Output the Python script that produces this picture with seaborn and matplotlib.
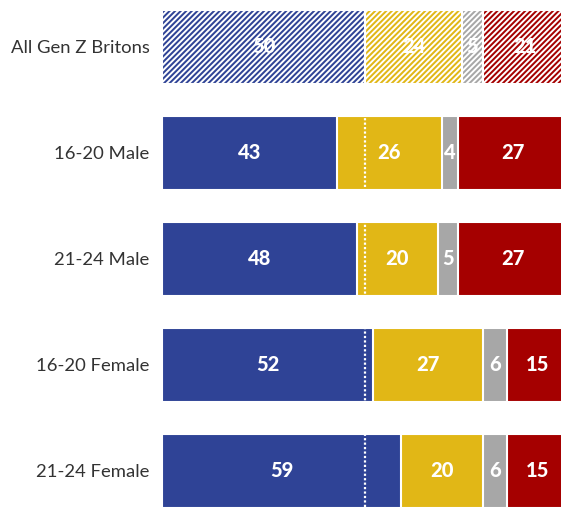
import numpy as np
import pandas as pd
import matplotlib
matplotlib.use("Agg")
import matplotlib.pyplot as plt
import seaborn as sns

# Data
groups = ["All Gen Z Britons", "16-20 Male", "21-24 Male", "16-20 Female", "21-24 Female"]
seg_blue = [50, 43, 48, 52, 59]
seg_yellow = [24, 26, 20, 27, 20]
seg_grey = [5, 4, 5, 6, 6]
seg_red = [21, 27, 27, 15, 15]

colors = ["#2F4396", "#E1B716", "#A7A7A7", "#A50000"]

sns.set_theme(style="white")
plt.rcParams["font.family"] = ["Lato", "DejaVu Sans"]
plt.rcParams["hatch.linewidth"] = 1.4

segments = np.array([seg_blue, seg_yellow, seg_grey, seg_red])
cum = segments.cumsum(axis=0)
starts = cum - segments

fig = plt.figure(figsize=(5.61, 5.07), dpi=100)
ax = fig.add_axes([162 / 561, 0, 1 - 162 / 561, 1])

# draw cumulative bars from the widest to the narrowest so the white edges act as gaps
for k in range(3, -1, -1):
    n_before = len(ax.patches)
    df = pd.DataFrame({"group": groups, "value": cum[k]})
    sns.barplot(data=df, x="value", y="group", orient="h", color=colors[k],
                saturation=1, width=0.7, edgecolor="white", linewidth=1.5, ax=ax)
    ax.patches[n_before].set_hatch("//////")

# dotted 50% marker
ax.axvline(50, color="white", linestyle=(0, (1, 1)), linewidth=1.6, zorder=5)

# value labels
for k in range(4):
    for i in range(len(groups)):
        ax.text(starts[k, i] + segments[k, i] / 2, i, str(segments[k, i]),
                ha="center", va="center", color="white", fontsize=14.5,
                fontweight="black", zorder=6)

ax.set_xlim(0, 98.3)
ax.set_ylim(4.34, -0.443)
ax.set_xlabel("")
ax.set_ylabel("")
ax.set_xticks([])
ax.tick_params(axis="y", length=0, pad=9, labelsize=13.3, labelcolor="#333333")
sns.despine(ax=ax, left=True, bottom=True)

fig.savefig("out.png", dpi=100)
